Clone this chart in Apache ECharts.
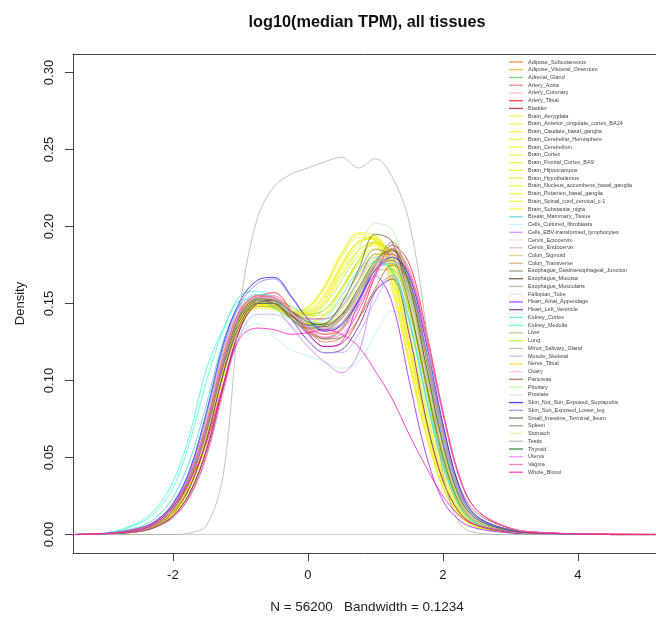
<!DOCTYPE html>
<html>
<head>
<meta charset="utf-8">
<script src="https://cdn.jsdelivr.net/npm/echarts@6/dist/echarts.min.js"></script>
<style>html,body{margin:0;padding:0;background:#fff}#c{width:656px;height:618px}</style>
</head>
<body>
<div id="c"></div>
<script>
// x grid (log10 median TPM) shared by all density curves
const xGrid = [-3.5,-3,-2.5,-2.25,-2,-1.75,-1.5,-1.25,-1,-0.75,-0.5,-0.25,0,0.25,0.5,0.75,1,1.25,1.5,1.75,2,2.25,2.5,3,3.5,4.5,6];
const xTicks = [-2, 0, 2, 4];
const yTicks = [0, 0.05, 0.10, 0.15, 0.20, 0.25, 0.30];

const tissueNames = ["Adipose_Subcutaneous","Adipose_Visceral_Omentum","Adrenal_Gland","Artery_Aorta","Artery_Coronary","Artery_Tibial","Bladder","Brain_Amygdala","Brain_Anterior_cingulate_cortex_BA24","Brain_Caudate_basal_ganglia","Brain_Cerebellar_Hemisphere","Brain_Cerebellum","Brain_Cortex","Brain_Frontal_Cortex_BA9","Brain_Hippocampus","Brain_Hypothalamus","Brain_Nucleus_accumbens_basal_ganglia","Brain_Putamen_basal_ganglia","Brain_Spinal_cord_cervical_c-1","Brain_Substantia_nigra","Breast_Mammary_Tissue","Cells_Cultured_fibroblasts","Cells_EBV-transformed_lymphocytes","Cervix_Ectocervix","Cervix_Endocervix","Colon_Sigmoid","Colon_Transverse","Esophagus_Gastroesophageal_Junction","Esophagus_Mucosa","Esophagus_Muscularis","Fallopian_Tube","Heart_Atrial_Appendage","Heart_Left_Ventricle","Kidney_Cortex","Kidney_Medulla","Liver","Lung","Minor_Salivary_Gland","Muscle_Skeletal","Nerve_Tibial","Ovary","Pancreas","Pituitary","Prostate","Skin_Not_Sun_Exposed_Suprapubic","Skin_Sun_Exposed_Lower_leg","Small_Intestine_Terminal_Ileum","Spleen","Stomach","Testis","Thyroid","Uterus","Vagina","Whole_Blood"];

const tissueColors = ["#FF6600","#FFAA00","#33DD33","#FF5555","#FFAA99","#FF0000","#AA0000","#EEEE00","#EEEE00","#EEEE00","#EEEE00","#EEEE00","#EEEE00","#EEEE00","#EEEE00","#EEEE00","#EEEE00","#EEEE00","#EEEE00","#EEEE00","#33CCCC","#AAEEFF","#CC66FF","#FFCCCC","#CCAADD","#EEBB77","#CC9955","#8B7355","#552200","#BB9988","#FFCCCC","#9900FF","#660099","#22FFDD","#33FFCC","#AABB66","#99FF00","#99BB88","#AAAAFF","#FFD700","#FFAAFF","#995522","#AAFF99","#DDDDDD","#0000FF","#7777FF","#555522","#778855","#FFDD99","#AAAAAA","#006600","#FF66FF","#FF5599","#FF00BB"];

const adiposeSubcutaneous = [0,.0005,.003,.007,.016,.035,.068,.113,.145,.155,.152,.143,.134,.13,.137,.155,.175,.182,.158,.105,.056,.022,.009,.0025,.0008,0,0];
const adiposeVisceral = [0,.0005,.003,.008,.018,.038,.072,.116,.146,.154,.15,.142,.135,.133,.141,.158,.176,.178,.155,.1,.052,.02,.008,.002,.0007,0,0];
const adrenalGland = [0,.0004,.003,.007,.015,.033,.066,.11,.142,.152,.153,.148,.143,.146,.16,.178,.19,.182,.148,.095,.048,.018,.007,.0017,.0005,0,0];
const arteryAorta = [0,.0003,.002,.005,.012,.027,.055,.098,.135,.153,.155,.145,.132,.125,.128,.145,.17,.185,.17,.128,.078,.036,.016,.004,.0012,.0002,0];
const arteryCoronary = [0,.0004,.003,.006,.014,.031,.062,.107,.141,.154,.153,.143,.134,.13,.135,.152,.172,.18,.162,.115,.065,.028,.012,.003,.001,.0001,0];
const arteryTibial = [0,.0003,.002,.005,.011,.025,.052,.095,.134,.153,.157,.146,.131,.122,.124,.14,.168,.188,.176,.133,.08,.037,.016,.004,.0012,.0002,0];
const bladder = [0,.0005,.003,.007,.016,.035,.068,.112,.143,.152,.15,.142,.136,.135,.142,.158,.176,.184,.16,.108,.058,.023,.009,.0025,.0008,0,0];
const brainAmygdala = [0,.0004,.002,.006,.013,.03,.06,.103,.136,.148,.148,.145,.146,.157,.176,.19,.192,.168,.12,.072,.034,.014,.006,.0015,.0004,0,0];
const brainACC = [0,.0004,.002,.006,.014,.031,.062,.105,.138,.149,.147,.144,.147,.16,.18,.193,.191,.163,.115,.068,.031,.013,.005,.0013,.0004,0,0];
const brainCaudate = [0,.0004,.003,.006,.014,.032,.064,.108,.14,.15,.148,.143,.143,.152,.172,.188,.194,.172,.125,.076,.036,.015,.006,.0015,.0004,0,0];
const brainCerebellarHemisphere = [0,.0005,.003,.007,.016,.035,.068,.11,.14,.15,.147,.14,.137,.142,.158,.176,.188,.182,.148,.098,.05,.02,.008,.002,.0006,0,0];
const brainCerebellum = [0,.0005,.003,.008,.017,.037,.07,.112,.141,.15,.147,.141,.138,.143,.16,.178,.19,.183,.146,.096,.048,.019,.008,.002,.0006,0,0];
const brainCortex = [0,.0004,.002,.006,.013,.03,.061,.104,.137,.148,.147,.145,.148,.162,.183,.195,.19,.158,.11,.064,.03,.012,.005,.0013,.0004,0,0];
const brainFrontalCortex = [0,.0004,.002,.006,.013,.03,.06,.103,.136,.147,.146,.144,.147,.161,.182,.196,.193,.162,.112,.066,.031,.012,.005,.0013,.0004,0,0];
const brainHippocampus = [0,.0004,.003,.006,.014,.031,.062,.106,.139,.149,.148,.144,.145,.155,.175,.19,.192,.167,.12,.072,.034,.014,.006,.0015,.0004,0,0];
const brainHypothalamus = [0,.0004,.003,.007,.015,.033,.065,.109,.14,.15,.149,.145,.144,.152,.17,.185,.19,.172,.13,.08,.038,.016,.007,.0017,.0005,0,0];
const brainNucleusAccumbens = [0,.0004,.003,.006,.014,.032,.063,.107,.139,.149,.147,.143,.144,.154,.174,.19,.193,.17,.123,.074,.035,.015,.006,.0015,.0004,0,0];
const brainPutamen = [0,.0004,.003,.006,.014,.031,.062,.106,.139,.15,.148,.143,.142,.15,.168,.184,.19,.175,.133,.083,.04,.017,.007,.0017,.0005,0,0];
const brainSpinalCord = [0,.0005,.003,.007,.016,.034,.066,.11,.141,.151,.149,.144,.141,.146,.16,.176,.186,.178,.145,.097,.049,.02,.008,.002,.0006,0,0];
const brainSubstantiaNigra = [0,.0005,.003,.007,.015,.033,.065,.109,.14,.15,.149,.145,.143,.149,.165,.181,.189,.176,.138,.089,.043,.018,.007,.0018,.0005,0,0];
const breastMammary = [0,.0008,.005,.011,.024,.048,.085,.126,.149,.156,.154,.145,.136,.133,.14,.156,.172,.176,.155,.106,.058,.023,.009,.0025,.0008,0,0];
const cellsFibroblasts = [0,.0005,.003,.007,.016,.034,.065,.105,.13,.137,.128,.12,.116,.112,.108,.112,.13,.145,.14,.105,.06,.024,.01,.0025,.0008,0,0];
const cellsEBV = [0,.0005,.003,.008,.018,.038,.072,.115,.145,.152,.148,.135,.122,.112,.105,.118,.158,.168,.14,.09,.045,.018,.007,.0017,.0005,0,0];
const cervixEctocervix = [0,.0005,.003,.007,.016,.035,.068,.112,.144,.154,.152,.143,.135,.132,.138,.155,.172,.178,.158,.108,.058,.024,.01,.0025,.0008,0,0];
const cervixEndocervix = [0,.0006,.004,.009,.02,.041,.077,.12,.147,.155,.154,.145,.137,.134,.14,.156,.173,.176,.154,.104,.056,.022,.009,.0025,.0008,0,0];
const colonSigmoid = [0,.0004,.003,.006,.014,.031,.062,.106,.14,.153,.151,.141,.132,.128,.134,.152,.174,.186,.166,.118,.066,.028,.012,.003,.001,.0001,0];
const colonTransverse = [0,.0006,.004,.008,.019,.039,.074,.118,.146,.155,.153,.146,.139,.137,.143,.158,.174,.178,.156,.106,.057,.023,.009,.0025,.0008,0,0];
const esophagusGEJ = [0,.0004,.003,.006,.014,.031,.062,.106,.14,.152,.15,.14,.131,.127,.133,.152,.176,.19,.165,.115,.063,.026,.011,.003,.001,0,0];
const esophagusMucosa = [0,.0005,.003,.007,.016,.035,.068,.112,.143,.153,.152,.145,.14,.14,.148,.165,.182,.182,.155,.103,.055,.022,.009,.0025,.0008,0,0];
const esophagusMuscularis = [0,.0004,.003,.006,.014,.031,.062,.106,.14,.152,.151,.141,.132,.128,.134,.152,.175,.188,.166,.117,.065,.027,.011,.003,.001,0,0];
const fallopianTube = [0,.0005,.003,.008,.017,.036,.07,.114,.144,.154,.153,.144,.136,.134,.141,.158,.176,.18,.158,.107,.057,.023,.009,.0025,.0008,0,0];
const heartAtrial = [0,.0003,.002,.005,.012,.027,.055,.097,.134,.15,.152,.143,.13,.122,.125,.15,.168,.15,.1,.052,.022,.009,.004,.001,.0003,0,0];
const heartLeftVentricle = [0,.0004,.003,.006,.014,.031,.062,.105,.137,.15,.15,.14,.126,.118,.12,.135,.158,.166,.13,.075,.035,.014,.006,.0015,.0004,0,0];
const kidneyCortex = [0,.001,.008,.017,.034,.065,.108,.134,.155,.158,.152,.143,.136,.137,.148,.165,.177,.172,.14,.09,.047,.018,.007,.0018,.0005,0,0];
const kidneyMedulla = [0,.0009,.007,.015,.03,.06,.1,.133,.152,.153,.147,.14,.136,.14,.155,.172,.18,.17,.138,.088,.045,.018,.007,.0018,.0005,0,0];
const liver = [0,.0005,.003,.007,.016,.035,.067,.11,.14,.148,.148,.14,.134,.133,.14,.156,.172,.172,.145,.1,.056,.023,.009,.0025,.0008,0,0];
const lung = [0,.0005,.003,.007,.016,.035,.068,.112,.143,.153,.152,.146,.142,.143,.152,.168,.182,.178,.148,.098,.052,.021,.008,.002,.0007,0,0];
const minorSalivary = [0,.0005,.003,.007,.016,.035,.068,.112,.143,.153,.152,.143,.136,.134,.141,.158,.175,.18,.158,.107,.057,.023,.009,.0025,.0008,0,0];
const muscleSkeletal = [0,.0003,.002,.005,.011,.024,.05,.092,.13,.143,.143,.136,.126,.118,.118,.13,.152,.168,.155,.11,.062,.026,.011,.003,.001,0,0];
const nerveTibial = [0,.0004,.003,.006,.014,.032,.064,.108,.141,.153,.153,.144,.137,.137,.146,.163,.18,.185,.16,.108,.058,.023,.009,.0025,.0008,0,0];
const ovary = [0,.0005,.003,.007,.016,.035,.068,.112,.143,.153,.153,.146,.14,.14,.148,.165,.18,.18,.155,.104,.056,.022,.009,.0025,.0008,0,0];
const pancreas = [0,.0003,.002,.005,.012,.027,.056,.098,.134,.15,.152,.143,.133,.127,.128,.14,.16,.175,.165,.12,.07,.031,.014,.004,.0012,.0002,0];
const pituitary = [0,.0005,.003,.007,.016,.034,.066,.109,.14,.15,.15,.145,.145,.15,.165,.185,.202,.198,.16,.1,.05,.02,.008,.002,.0007,0,0];
const prostate = [0,.0005,.003,.007,.016,.035,.068,.112,.143,.153,.152,.144,.138,.138,.147,.164,.18,.18,.154,.103,.055,.022,.009,.0025,.0008,0,0];
const skinNotSunExposed = [0,.0006,.004,.009,.02,.042,.08,.124,.152,.165,.167,.155,.14,.132,.136,.152,.172,.18,.168,.125,.072,.03,.012,.003,.001,0,0];
const skinSunExposed = [0,.0006,.004,.009,.019,.04,.078,.122,.15,.163,.166,.154,.14,.133,.137,.153,.172,.178,.164,.12,.068,.028,.011,.003,.001,0,0];
const smallIntestine = [0,.0005,.003,.007,.016,.035,.067,.11,.14,.15,.15,.142,.136,.137,.15,.172,.195,.19,.15,.098,.05,.02,.008,.002,.0007,0,0];
const spleen = [0,.0005,.003,.008,.017,.037,.07,.113,.142,.151,.15,.14,.134,.136,.15,.17,.185,.18,.15,.1,.053,.021,.008,.002,.0007,0,0];
const stomach = [0,.0005,.003,.007,.016,.035,.068,.112,.143,.153,.152,.146,.142,.143,.152,.168,.182,.18,.152,.102,.054,.021,.008,.002,.0007,0,0];
const testis = [0,0,0,0,0,.001,.006,.04,.15,.205,.226,.234,.238,.242,.245,.238,.244,.232,.203,.135,.04,.007,.001,0,0,0,0];
const thyroid = [0,.0005,.003,.007,.016,.035,.068,.112,.143,.153,.152,.145,.138,.136,.143,.16,.178,.185,.162,.11,.059,.024,.01,.0025,.0008,0,0];
const uterus = [0,.0005,.003,.007,.016,.035,.068,.112,.144,.154,.153,.144,.134,.128,.13,.145,.168,.182,.17,.128,.078,.036,.016,.004,.0012,.0002,0];
const vagina = [0,.0006,.004,.008,.018,.038,.072,.116,.146,.155,.154,.145,.135,.13,.133,.148,.17,.186,.172,.13,.08,.037,.016,.004,.0012,.0002,0];
const wholeBlood = [0,.0008,.003,.008,.018,.035,.06,.098,.128,.134,.133,.13,.131,.133,.13,.122,.106,.088,.065,.044,.025,.012,.006,.002,.0008,.0001,0];

const tissueValues = [adiposeSubcutaneous,adiposeVisceral,adrenalGland,arteryAorta,arteryCoronary,arteryTibial,bladder,brainAmygdala,brainACC,brainCaudate,brainCerebellarHemisphere,brainCerebellum,brainCortex,brainFrontalCortex,brainHippocampus,brainHypothalamus,brainNucleusAccumbens,brainPutamen,brainSpinalCord,brainSubstantiaNigra,breastMammary,cellsFibroblasts,cellsEBV,cervixEctocervix,cervixEndocervix,colonSigmoid,colonTransverse,esophagusGEJ,esophagusMucosa,esophagusMuscularis,fallopianTube,heartAtrial,heartLeftVentricle,kidneyCortex,kidneyMedulla,liver,lung,minorSalivary,muscleSkeletal,nerveTibial,ovary,pancreas,pituitary,prostate,skinNotSunExposed,skinSunExposed,smallIntestine,spleen,stomach,testis,thyroid,uterus,vagina,wholeBlood];

const FONT = '"Liberation Sans", Arial, Helvetica, sans-serif';
const chart = echarts.init(document.getElementById('c'), null, {renderer: 'canvas'});

const series = tissueNames.map((name, i) => ({
  name: name,
  type: 'line',
  xAxisIndex: 0,
  data: xGrid.map((x, j) => [x, tissueValues[i][j]]),
  smooth: 0.35,
  symbol: 'none',
  showSymbol: false,
  lineStyle: {color: tissueColors[i], width: 1, opacity: 0.72},
  itemStyle: {color: tissueColors[i], opacity: 0.72},
  silent: true,
  z: 2
}));
series[0].markLine = {
  silent: true,
  symbol: ['none', 'none'],
  label: {show: false},
  lineStyle: {color: '#d0d0d0', width: 1, type: 'solid', opacity: 1},
  data: [{yAxis: 0}],
  z: 1
};

const X_MIN = -3.48, X_MAX = 5.157;
const boxLine = {show: true, onZero: false, lineStyle: {color: '#444', width: 1}};

chart.setOption({
  animation: false,
  backgroundColor: '#fff',
  grid: {left: 73, top: 54, right: 0, height: 499, show: false, containLabel: false},
  xAxis: [{
    type: 'value', min: X_MIN, max: X_MAX, position: 'bottom',
    axisLine: boxLine,
    splitLine: {show: false},
    axisTick: {show: true, inside: false, length: 8, lineStyle: {color: '#444'}, customValues: xTicks},
    axisLabel: {customValues: xTicks, margin: 16, color: '#222', fontSize: 13, fontFamily: FONT,
      formatter: v => String(v)}
  }, {
    type: 'value', min: X_MIN, max: X_MAX, position: 'top',
    axisLine: boxLine,
    splitLine: {show: false}, axisTick: {show: false}, axisLabel: {show: false}
  }],
  yAxis: {
    type: 'value', min: -0.012, max: 0.312,
    name: 'Density', nameLocation: 'middle', nameGap: 46, nameRotate: 90,
    nameTextStyle: {color: '#222', fontSize: 13, fontFamily: FONT},
    axisLine: boxLine,
    splitLine: {show: false},
    axisTick: {show: true, inside: false, length: 8, lineStyle: {color: '#444'}, customValues: yTicks},
    axisLabel: {customValues: yTicks, rotate: 90, margin: 17, color: '#222', fontSize: 13, fontFamily: FONT,
      formatter: v => v.toFixed(2)}
  },
  legend: {
    orient: 'vertical', left: 509, top: 59,
    icon: 'rect',
    itemWidth: 14, itemHeight: 1.3, itemGap: 1.74,
    data: tissueNames,
    textStyle: {fontSize: 5.5, lineHeight: 6, color: '#444', fontFamily: FONT, padding: [0, 0, 0, 0]},
    selectedMode: false,
    padding: 0
  },
  graphic: [
    {type: 'text', x: 367, y: 23, style: {text: 'log10(median TPM), all tissues', fill: '#111', font: 'bold 16.3px ' + FONT, textAlign: 'center', textVerticalAlign: 'middle'}},
    {type: 'text', x: 367, y: 607, style: {text: 'N = 56200   Bandwidth = 0.1234', fill: '#222', font: '13.5px ' + FONT, textAlign: 'center', textVerticalAlign: 'middle'}}
  ],
  series: series
});
</script>
</body>
</html>
